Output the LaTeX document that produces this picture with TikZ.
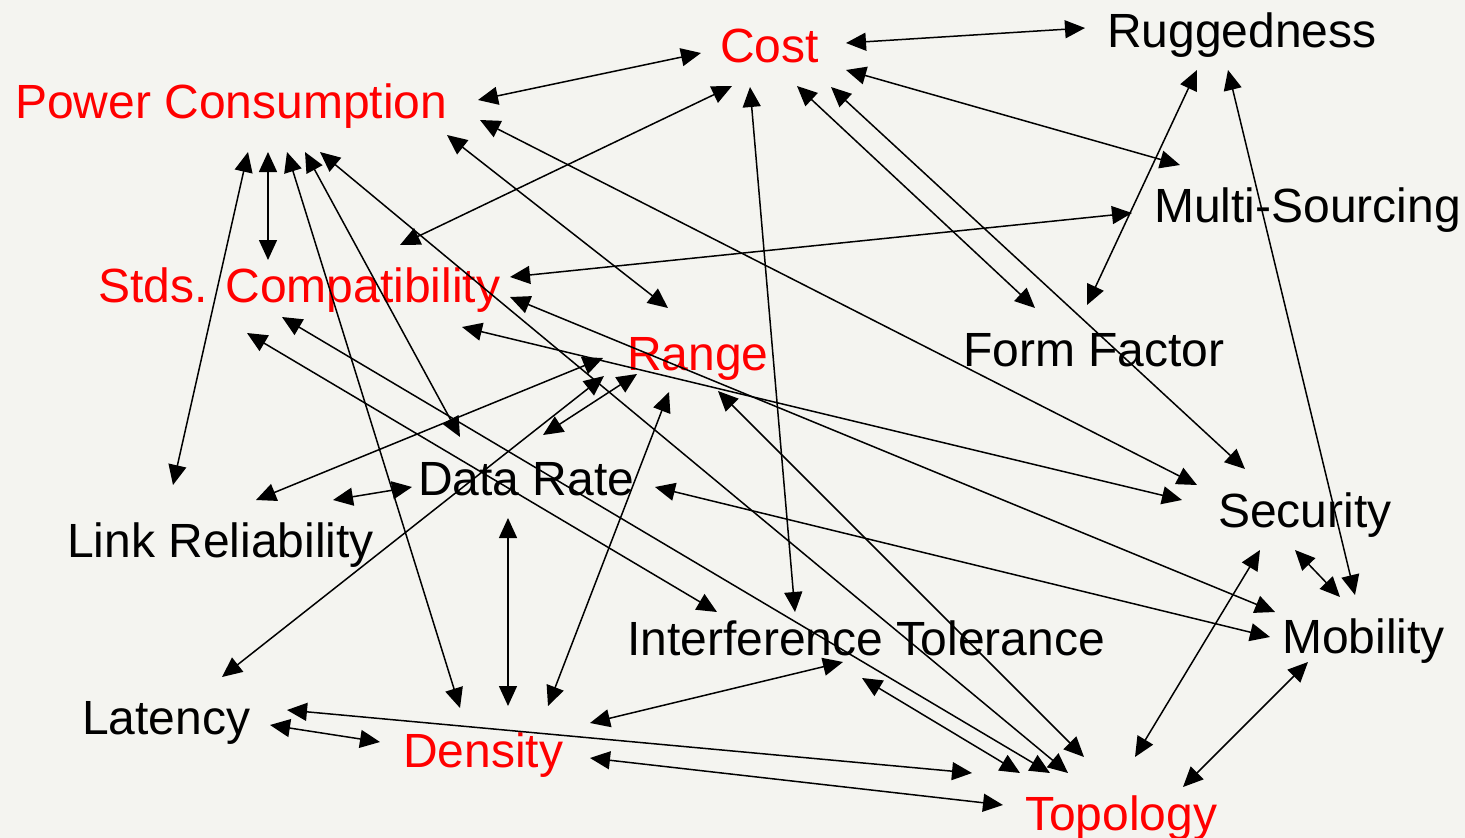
\documentclass[tikz,border=0pt]{standalone}
\usepackage{fontspec}
\setmainfont{Liberation Sans}
\usetikzlibrary{arrows.meta}
\definecolor{bggray}{RGB}{244,244,240}
\definecolor{keyred}{RGB}{255,0,0}

\begin{document}
\begin{tikzpicture}[x=1pt,y=-1pt,
  lbl/.style={inner sep=0pt,anchor=base west,font=\fontsize{48}{56}\selectfont},
  key/.style={lbl,text=keyred},
  >={Triangle[length=20pt,width=18pt]},
  link/.style={<->,line width=1.5pt}]
\fill[bggray] (0,0) rectangle (1465,838);
\useasboundingbox (0,0) rectangle (1465,838);
% requirements (red = key ones)
\node[key] (pow) at (15,118) {Power Consumption};
\node[key] (cost) at (720,62) {Cost};
\node[lbl] (rug) at (1107,47) {Ruggedness};
\node[lbl] (multi) at (1154,222) {Multi-Sourcing};
\node[key] (stds) at (98,302) {Stds. Compatibility};
\node[key] (range) at (627,370) {Range};
\node[lbl] (form) at (963,366) {Form Factor};
\node[lbl] (rate) at (418,495) {Data Rate};
\node[lbl] (sec) at (1218,527) {Security};
\node[lbl] (link) at (67,557) {Link Reliability};
\node[lbl] (inter) at (627,655) {Interference Tolerance};
\node[lbl] (mob) at (1282,653) {Mobility};
\node[lbl] (lat) at (82,734) {Latency};
\node[key] (dens) at (403,767) {Density};
\node[key] (topo) at (1025,830) {Topology};
% trade-offs, offsets from base west of each label
\foreach \a/\ax/\ay/\b/\bx/\by in {
  pow/463/-18/cost/-19/-9,
  pow/465/2/sec/-21/-42,
  pow/432/17/range/41/-62,
  pow/233/34/link/106/-72,
  pow/253/34/stds/170/-42,
  pow/272/34/dens/57/-59,
  pow/290/34/rate/42/-58,
  pow/305/34/topo/43/-57,
  stds/302/-57/cost/12/24,
  cost/30/25/inter/168/-43,
  cost/77/24/form/72/-58,
  cost/111/25/sec/27/-58,
  cost/126/-19/rug/-22/-19,
  cost/126/8/multi/26/-57,
  form/124/-61/rug/90/23,
  rug/121/23/mob/73/-58,
  stds/412/-25/multi/-22/-9,
  stds/412/-5/mob/-7/-41,
  stds/364/25/sec/-36/-27,
  stds/184/15/topo/25/-57,
  stds/149/31/inter/90/-43,
  link/189/-57/range/-24/-12,
  lat/140/-57/range/-23/6,
  rate/125/-60/range/10/4,
  dens/145/-61/range/42/22,
  range/91/21/topo/59/-73,
  link/266/-57/rate/-6/-8,
  rate/90/23/dens/105/-61,
  rate/237/-8/mob/-12/-16,
  dens/187/-44/inter/216/7,
  lat/188/-9/dens/-23/-25,
  dens/187/-9/topo/-22/-25,
  lat/205/-24/topo/-53/-57,
  inter/235/23/topo/-5/-57,
  sec/77/23/mob/58/-56,
  sec/42/23/topo/110/-73,
  mob/26/9/topo/158/-43}{
  \draw[link] ([shift={(\ax,\ay)}]\a.base west) -- ([shift={(\bx,\by)}]\b.base west);
}
\end{tikzpicture}
\end{document}
